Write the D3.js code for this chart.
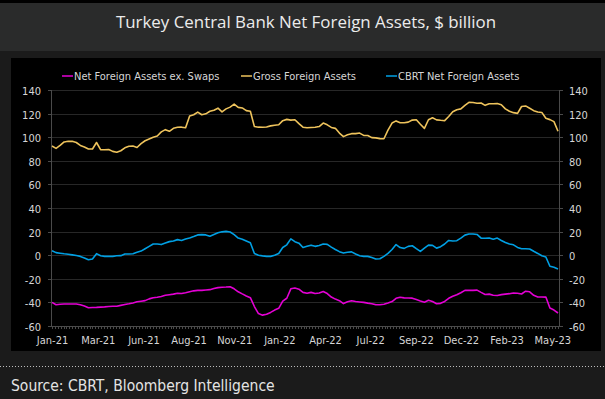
<!DOCTYPE html>
<html lang="en">
<head>
  <meta charset="utf-8">
  <title>Turkey Central Bank Net Foreign Assets</title>
  <script src="https://cdn.jsdelivr.net/npm/d3@7/dist/d3.min.js"></script>
  <style>
    body { margin: 0; background: #1b1b1b; }
    svg { display: block; }
    .lbl { font-family: "DejaVu Sans Condensed", "Liberation Sans Narrow", "DejaVu Sans", sans-serif; font-size: 11px; fill: #d6d6d6; }
  </style>
</head>
<body>
<div id="graphic"></div>
<script>
  // weekly observations, first one on this date
  var startDate = "2021-01-01";

  var netExSwaps = [
    -40.0, -42.0, -41.6, -41.4, -41.4, -41.3, -41.3, -42.0, -43.0, -44.5,
    -44.3, -44.2, -44.0, -43.8, -43.5, -43.3, -43.3, -42.5, -41.8, -41.2,
    -40.5, -39.5, -39.0, -38.5, -37.0, -36.0, -35.7, -35.0, -34.0, -33.5,
    -33.0, -32.2, -32.5, -31.8, -31.0, -30.2, -29.8, -29.8, -29.5, -29.2,
    -28.2, -27.5, -27.2, -27.0, -26.7, -28.5, -31.0, -32.8, -34.5, -36.0,
    -43.5, -49.5, -50.8, -50.0, -48.5, -46.5, -45.0, -39.0, -36.5, -28.5,
    -27.8, -28.8, -31.5, -32.2, -31.5, -32.5, -32.0, -30.8, -32.5, -35.5,
    -37.2, -38.5, -41.0, -39.5, -38.6, -39.2, -39.6, -40.0, -40.6, -41.1,
    -42.0, -42.0, -41.5, -40.5, -39.3, -36.5, -35.7, -36.2, -36.3, -36.4,
    -37.5, -38.8, -39.8, -38.2, -39.3, -41.2, -40.8, -39.2, -36.5, -34.8,
    -33.5, -31.8, -29.8, -29.8, -29.8, -29.6, -31.5, -33.3, -33.0, -34.0,
    -34.2, -33.4, -33.0, -32.6, -32.0, -32.3, -32.9, -30.5, -31.0, -34.0,
    -35.4, -35.4, -35.5, -44.8, -46.5, -49.0
  ];

  var grossAssets = [
    92.5, 90.5, 93.0, 96.0, 96.5, 96.5, 95.5, 93.0, 91.7, 90.0,
    90.0, 95.5, 89.5, 89.3, 89.5, 88.0, 87.2, 88.5, 91.0, 92.3,
    92.5, 91.3, 94.5, 97.0, 98.5, 100.0, 101.0, 104.5, 106.4, 105.0,
    107.5, 108.4, 108.5, 108.0, 118.0, 119.0, 121.3, 119.0, 119.8, 122.0,
    122.8, 124.6, 121.5, 124.0, 125.5, 128.0, 125.3, 124.8, 122.5, 122.0,
    109.0, 108.5, 108.4, 108.7, 109.6, 110.1, 110.5, 114.0, 115.1, 114.5,
    114.8, 111.5, 108.5, 108.0, 108.2, 108.4, 109.0, 112.0, 110.5, 108.3,
    107.5, 103.5, 100.5, 102.0, 103.0, 103.0, 103.5, 101.5, 101.5, 99.6,
    99.4, 98.8, 98.7, 106.0, 112.0, 113.8, 112.3, 112.3, 112.8, 114.5,
    114.8, 111.0, 107.5, 114.8, 116.5, 114.7, 114.3, 114.0, 117.5, 121.5,
    123.3, 124.0, 127.0, 129.5, 129.4, 128.8, 129.0, 127.0, 128.3, 128.3,
    128.5, 127.5, 124.0, 122.0, 120.8, 120.2, 126.0, 126.5, 124.5, 122.5,
    121.4, 121.0, 116.0, 114.9, 113.2, 105.0
  ];

  var cbrtNet = [
    3.8, 2.2, 1.7, 1.2, 0.8, 0.3, -0.3, -1.0, -2.3, -3.8,
    -3.2, 1.3, -0.5, -1.0, -1.0, -1.0, -0.5, -0.4, 1.0, 1.0,
    1.2, 2.5, 3.5, 5.5, 7.5, 9.5, 9.5, 9.0, 10.3, 11.5,
    12.0, 13.2, 12.5, 13.7, 14.6, 15.8, 17.2, 17.4, 17.2, 16.0,
    17.5, 19.0, 19.8, 20.2, 19.7, 17.5, 14.5, 13.5, 12.0, 10.5,
    1.5, 0.0, -0.6, -1.0, -1.0, 0.0, 1.5, 6.5, 8.8, 13.8,
    11.5, 10.2, 6.5, 7.5, 8.5, 7.5, 8.3, 9.5, 9.2, 6.8,
    4.8, 3.0, 1.8, 2.5, 2.8, 1.0, -0.5, -1.0, -1.0, -2.0,
    -3.2, -3.0, -1.0, 1.5, 4.8, 9.0, 6.5, 5.8, 7.5, 8.0,
    5.5, 3.2, 6.0, 8.5, 8.3, 6.0, 7.2, 9.5, 12.5, 12.0,
    12.3, 14.5, 17.0, 18.0, 18.0, 17.6, 14.5, 14.3, 14.6, 13.5,
    14.5, 12.5, 10.8, 9.5, 8.8, 6.6, 5.5, 5.5, 5.3, 3.3,
    1.5, -0.5, -1.5, -9.4, -10.2, -11.7
  ];

  var seriesNames = ["Net Foreign Assets ex. Swaps", "Gross Foreign Assets", "CBRT Net Foreign Assets"];
  var seriesColours = ["#e400d4", "#eec35c", "#00a0e4"];

  var yTicks = [-60, -40, -20, 0, 20, 40, 60, 80, 100, 120, 140];
  var xLabelDates = ["2021-01-02", "2021-03-22", "2021-06-09", "2021-08-26", "2021-11-13", "2022-01-30",
                     "2022-04-19", "2022-07-06", "2022-09-23", "2022-12-10", "2023-02-27", "2023-05-17"];

  var titleText = "Turkey Central Bank Net Foreign Assets, $ billion";
  var sourceText = "Source: CBRT, Bloomberg Intelligence";

  var width = 605, height = 399;
  var plot = {left: 51, right: 559, top: 90, bottom: 326};

  var parse = d3.timeParse("%Y-%m-%d");
  var fmt = d3.timeFormat("%b-%y");
  var start = parse(startDate);
  var dates = grossAssets.map(function(d, i) { return d3.timeDay.offset(start, 7 * i); });

  var series = [netExSwaps, grossAssets, cbrtNet].map(function(vals, k) {
    return {name: seriesNames[k], colour: seriesColours[k],
            values: vals.map(function(v, i) { return {date: dates[i], value: v}; })};
  });

  var x = d3.scaleTime()
    .domain([dates[0], dates[dates.length - 1]])
    .range([plot.left + 1, plot.right - 1]);

  var y = d3.scaleLinear()
    .domain([-60, 140])
    .range([plot.bottom, plot.top]);

  var svg = d3.select("#graphic").append("svg")
    .attr("width", width)
    .attr("height", height);

  // backgrounds
  svg.append("rect").attr("width", width).attr("height", height).attr("fill", "#1b1b1b");
  svg.append("rect").attr("width", width).attr("height", 3).attr("fill", "#000");
  svg.append("rect").attr("y", 3).attr("width", width).attr("height", 48).attr("fill", "#2a2b2b");
  svg.append("rect").attr("x", 11).attr("y", 58).attr("width", 590).attr("height", 293).attr("fill", "#000");

  svg.append("text")
    .attr("x", 306).attr("y", 28)
    .attr("text-anchor", "middle")
    .style("font-family", "'Open Sans', Lato, sans-serif")
    .style("font-size", "16.9px")
    .attr("fill", "#ececec")
    .text(titleText);

  // gridlines
  svg.append("g").selectAll("line")
    .data(yTicks)
    .enter().append("line")
    .attr("x1", plot.left).attr("x2", plot.right)
    .attr("y1", function(d) { return Math.round(y(d)) + 0.5; })
    .attr("y2", function(d) { return Math.round(y(d)) + 0.5; })
    .attr("stroke", "#272727")
    .attr("stroke-width", 1);

  // axes lines
  var axisCol = "#4a4a4a";
  svg.append("line").attr("x1", plot.left + 0.5).attr("x2", plot.left + 0.5)
    .attr("y1", plot.top).attr("y2", plot.bottom).attr("stroke", axisCol);
  svg.append("line").attr("x1", plot.right + 0.5).attr("x2", plot.right + 0.5)
    .attr("y1", plot.top).attr("y2", plot.bottom).attr("stroke", axisCol);
  svg.append("line").attr("x1", plot.left).attr("x2", plot.right + 1)
    .attr("y1", plot.bottom + 0.5).attr("y2", plot.bottom + 0.5).attr("stroke", axisCol);

  // y ticks + labels both sides
  var yAxis = svg.append("g");
  yTicks.forEach(function(t) {
    var py = Math.round(y(t)) + 0.5;
    yAxis.append("line").attr("x1", plot.left - 3).attr("x2", plot.left).attr("y1", py).attr("y2", py).attr("stroke", axisCol);
    yAxis.append("line").attr("x1", plot.right).attr("x2", plot.right + 4).attr("y1", py).attr("y2", py).attr("stroke", axisCol);
    yAxis.append("text").attr("class", "lbl").attr("x", 41).attr("y", py + 4)
      .attr("text-anchor", "end").text(t);
    yAxis.append("text").attr("class", "lbl").attr("x", 569).attr("y", py + 4)
      .text(t);
  });

  // minor date ticks along the bottom, every 5 days
  var minor = d3.timeDay.range(dates[0], d3.timeDay.offset(dates[dates.length - 1], 1), 5);
  svg.append("g").selectAll("line")
    .data(minor)
    .enter().append("line")
    .attr("x1", function(d) { return Math.round(x(d)) + 0.5; })
    .attr("x2", function(d) { return Math.round(x(d)) + 0.5; })
    .attr("y1", plot.bottom).attr("y2", plot.bottom + 3)
    .attr("stroke", axisCol);

  // x labels
  svg.append("g").selectAll("text")
    .data(xLabelDates)
    .enter().append("text")
    .attr("class", "lbl")
    .attr("x", function(d) { return x(parse(d)); })
    .attr("y", 344)
    .attr("text-anchor", "middle")
    .text(function(d) { return fmt(parse(d)); });

  // lines
  var line = d3.line()
    .x(function(d) { return x(d.date); })
    .y(function(d) { return y(d.value); });

  svg.append("g").selectAll("path")
    .data(series)
    .enter().append("path")
    .attr("d", function(d) { return line(d.values); })
    .attr("fill", "none")
    .attr("stroke", function(d) { return d.colour; })
    .attr("stroke-width", 1.6)
    .attr("stroke-linejoin", "round");

  // legend
  var legendX = [62, 241, 386];
  var legend = svg.append("g").selectAll("g")
    .data(series)
    .enter().append("g")
    .attr("transform", function(d, i) { return "translate(" + legendX[i] + ",76)"; });
  legend.append("line").attr("x1", 0).attr("x2", 11).attr("y1", 0).attr("y2", 0)
    .attr("stroke", function(d) { return d.colour; }).attr("stroke-width", 1.5);
  legend.append("text").attr("class", "lbl").attr("x", 12).attr("y", 4)
    .text(function(d) { return d.name; });

  // footer
  svg.append("line")
    .attr("x1", 0).attr("x2", width).attr("y1", 366.5).attr("y2", 366.5)
    .attr("stroke", "#bdbdbd").attr("stroke-dasharray", "1,2");

  svg.append("text")
    .attr("x", 11).attr("y", 391)
    .style("font-family", "'DejaVu Sans Condensed', 'Liberation Sans Narrow', 'DejaVu Sans', sans-serif")
    .style("font-size", "15.5px")
    .attr("fill", "#e4e4e4")
    .text(sourceText);
</script>
</body>
</html>
